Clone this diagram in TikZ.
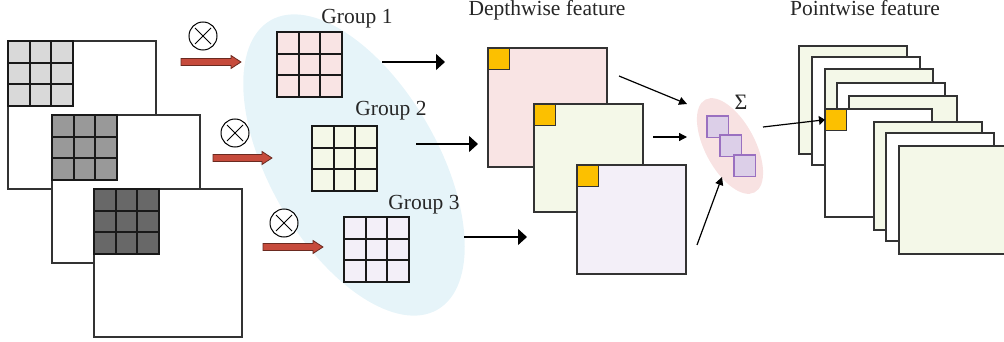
\documentclass[tikz,border=0pt]{standalone}
\usepackage{fontspec}
\setmainfont{Liberation Serif}
\usetikzlibrary{calc,arrows.meta,shapes.geometric}
\definecolor{gA}{HTML}{D9D9D9}
\definecolor{gB}{HTML}{999999}
\definecolor{gC}{HTML}{686868}
\definecolor{pinkF}{HTML}{F9E4E4}
\definecolor{greenF}{HTML}{F4F8E8}
\definecolor{lavF}{HTML}{F3EFF8}
\definecolor{blueE}{HTML}{E6F4F9}
\definecolor{pinkE}{HTML}{F8E2E2}
\definecolor{yel}{HTML}{FCC000}
\definecolor{purF}{HTML}{DCCFE8}
\definecolor{purD}{HTML}{9A70C0}
\definecolor{redA}{HTML}{C64B3C}
\definecolor{redD}{HTML}{6A2A20}
\definecolor{edge}{HTML}{333333}
\newcommand{\kgrid}[3]{%
  \node[kgridbox, fill=#3, anchor=north west] (#1) at (#2) {};
  \draw[gridline] ($(#1.north west)!1/3!(#1.north east)$) -- ($(#1.south west)!1/3!(#1.south east)$);
  \draw[gridline] ($(#1.north west)!2/3!(#1.north east)$) -- ($(#1.south west)!2/3!(#1.south east)$);
  \draw[gridline] ($(#1.north west)!1/3!(#1.south west)$) -- ($(#1.north east)!1/3!(#1.south east)$);
  \draw[gridline] ($(#1.north west)!2/3!(#1.south west)$) -- ($(#1.north east)!2/3!(#1.south east)$);
}
\newcommand{\redarr}[4]{%
  \coordinate (#1s) at (#2,#4);
  \coordinate (#1e) at (#3,#4);
  \filldraw[redarrow] (#2,#4-3.5) -- (#3-10,#4-3.5) -- (#3-10,#4-6.5) -- (#3,#4)
     -- (#3-10,#4+6.5) -- (#3-10,#4+3.5) -- (#2,#4+3.5) -- cycle;
}
\begin{document}
\begin{tikzpicture}[x=1pt,y=-1pt,
  mapbox/.style={draw=edge, line width=1.1pt, inner sep=0pt, outer sep=0pt},
  kgridbox/.style={draw=black!90, line width=1.7pt, minimum size=65pt, inner sep=0pt, outer sep=0pt},
  gridline/.style={draw=black!90, line width=1.7pt},
  ysq/.style={draw=black!80, fill=yel, line width=1.1pt, minimum size=21.5pt, inner sep=0pt, outer sep=0pt, anchor=north west},
  psq/.style={draw=purD, fill=purF, line width=1.1pt, minimum size=21.5pt, inner sep=0pt, outer sep=0pt, anchor=north west},
  otimes/.style={circle, draw=black, fill=white, line width=1pt, minimum size=28pt, inner sep=0pt,
    path picture={
      \draw[line width=1pt] ([shift={(-8pt,-8pt)}]path picture bounding box.center) -- ([shift={(8pt,8pt)}]path picture bounding box.center);
      \draw[line width=1pt] ([shift={(-8pt,8pt)}]path picture bounding box.center) -- ([shift={(8pt,-8pt)}]path picture bounding box.center);
    }},
  redarrow/.style={fill=redA, draw=redD, line width=0.8pt, line join=miter},
  bigarrow/.style={line width=1.2pt, -{Triangle[length=9pt,width=16pt]}},
  smallarrow/.style={line width=1.2pt, -{Triangle[length=8pt,width=8pt]}},
  lbl/.style={font=\fontsize{21.5}{24}\selectfont, anchor=base, inner sep=0pt, text=black!85}
]
\useasboundingbox (0,0) rectangle (1004,342);

% ---- blue ellipse (background of the groups)
\node[ellipse, fill=blueE, minimum width=334pt, minimum height=168pt, rotate=-60, inner sep=0pt] (bell) at (354,165) {};

% ---- input feature maps
\node[mapbox, fill=white, minimum size=148pt, anchor=north west] (in1) at (8,41) {};
\kgrid{k1}{8,41}{gA}
\node[mapbox, fill=white, minimum size=148pt, anchor=north west] (in2) at (52,115) {};
\kgrid{k2}{52,115}{gB}
\node[mapbox, fill=white, minimum size=148pt, anchor=north west] (in3) at (94,189) {};
\kgrid{k3}{94,189}{gC}

% ---- otimes and red arrows
\node[otimes] (o1) at (203,36) {};
\node[otimes] (o2) at (235,133) {};
\node[otimes] (o3) at (284,223) {};
\redarr{r1}{181}{241}{62}
\redarr{r2}{213}{272}{158}
\redarr{r3}{263}{323}{247}

% ---- groups
\kgrid{g1}{277,32}{pinkF}
\kgrid{g2}{312,126}{greenF}
\kgrid{g3}{344,217}{lavF}
\node[lbl] (l1) at (357,24) {Group 1};
\node[lbl] (l2) at (391,116) {Group 2};
\node[lbl] (l3) at (424,209) {Group 3};

% ---- depthwise
\node[lbl] (ldw) at (547,16) {Depthwise feature};
\node[mapbox, fill=pinkF, minimum size=119pt, anchor=north west] (d1) at (488,48) {};
\node[ysq] (y1) at (d1.north west) {};
\node[mapbox, fill=greenF, minimum width=109pt, minimum height=108pt, anchor=north west] (d2) at (534,104) {};
\node[ysq] (y2) at (d2.north west) {};
\node[mapbox, fill=lavF, minimum size=109pt, anchor=north west] (d3) at (577,165) {};
\node[ysq] (y3) at (d3.north west) {};

\coordinate (a1s) at (382,62);  \coordinate (a1e) at (445,62);
\coordinate (a2s) at (416,144); \coordinate (a2e) at (478,144);
\coordinate (a3s) at (464,237); \coordinate (a3e) at (527,237);
\draw[bigarrow] (a1s) -- (a1e);
\draw[bigarrow] (a2s) -- (a2e);
\draw[bigarrow] (a3s) -- (a3e);

% ---- sum
\node[ellipse, fill=pinkE, minimum width=105pt, minimum height=50pt, rotate=-62, inner sep=0pt] (pell) at (730,146) {};
\node[psq] (q1) at (707,116) {};
\node[psq] (q2) at (720,135) {};
\node[psq] (q3) at (734,155) {};
\node[font=\fontsize{22}{22}\selectfont, inner sep=0pt, text=black!85] (sig) at (741,102) {Σ};

\coordinate (s1s) at (619,76);  \coordinate (s1e) at (687,104);
\coordinate (s2s) at (653,137); \coordinate (s2e) at (687,137);
\coordinate (s3s) at (697,245); \coordinate (s3e) at (722,177);
\draw[smallarrow] (s1s) -- (s1e);
\draw[smallarrow] (s2s) -- (s2e);
\draw[smallarrow] (s3s) -- (s3e);

% ---- pointwise
\node[lbl] (lpw) at (865,16) {Pointwise feature};
\node[mapbox, fill=greenF, minimum size=108pt, anchor=north west] (p1) at (799,46) {};
\node[mapbox, fill=white,  minimum size=108pt, anchor=north west] (p2) at (812,57) {};
\node[mapbox, fill=greenF, minimum size=108pt, anchor=north west] (p3) at (825,69) {};
\node[mapbox, fill=white,  minimum size=108pt, anchor=north west] (p4) at (837,83) {};
\node[mapbox, fill=greenF, minimum size=108pt, anchor=north west] (p5) at (849,96) {};
\node[mapbox, fill=white,  minimum width=107pt, minimum height=108pt, anchor=north west] (p6) at (825,109) {};
\node[ysq] (y4) at (p6.north west) {};
\node[mapbox, fill=greenF, minimum size=108pt, anchor=north west] (p7) at (874,122) {};
\node[mapbox, fill=white,  minimum size=108pt, anchor=north west] (p8) at (886,133) {};
\node[mapbox, fill=greenF, minimum size=108pt, anchor=north west] (p9) at (899,146) {};

\coordinate (ps) at (763,127);
\draw[line width=1.2pt, -{Triangle[length=6pt,width=9pt]}] (ps) -- (y4.west);
\end{tikzpicture}
\end{document}
